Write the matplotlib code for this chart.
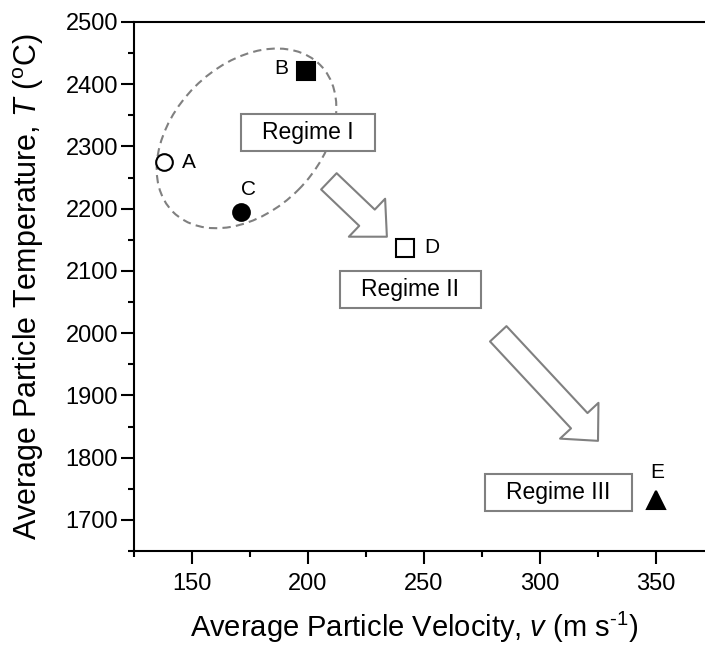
import matplotlib
matplotlib.use('Agg')
import matplotlib.pyplot as plt
from matplotlib.patches import Ellipse
from matplotlib.path import Path
from matplotlib.transforms import Affine2D, ScaledTranslation
from matplotlib.ticker import MultipleLocator

plt.rcParams['font.family'] = ['Liberation Sans', 'DejaVu Sans']
plt.rcParams['mathtext.fontset'] = 'custom'
plt.rcParams['mathtext.rm'] = 'Liberation Sans'
plt.rcParams['mathtext.it'] = 'Liberation Sans:italic'

# data
labels = ['A', 'B', 'C', 'D', 'E']
velocity = [138, 199, 171, 242, 350]          # m/s
temperature = [2275, 2421, 2195, 2137, 1732]  # deg C
markers = ['o', 's', 'o', 's', '^']
filled = [False, True, True, False, True]
label_offsets = [(25, 0), (-24, 3), (8, 22), (26, 0), (1, 27)]  # pixels

regime_names = ['Regime I', 'Regime II', 'Regime III']
regime_x = [200, 244, 308]
regime_y = [2323, 2070, 1744]

arrow_tails = [(209, 2244), (282, 1999)]
arrow_tips = [(234, 2155), (325, 1827)]

# dashed outline around regime I (centre in data, size in pixels)
ell_centre = (173.5, 2313)
ell_w, ell_h, ell_angle = 208, 146, 45

GREY = '#808080'

fig = plt.figure(figsize=(7.05, 6.51), dpi=100)
ax = fig.add_axes([134/705, 100/651, 580/705, 529/651])

for x, y, m, f, lab, off in zip(velocity, temperature, markers, filled, labels, label_offsets):
    size = 12 if m == 'o' else 13
    ax.plot(x, y, marker=m, ms=size, mfc='black' if f else 'white',
            mec='black', mew=1.5, ls='none', zorder=5)
    ax.annotate(lab, (x, y), xytext=off, textcoords='offset pixels',
                ha='center', va='center', fontsize=15)


def wide_box(x0, y0, width, height, mutation_size):
    # rectangle with more padding left/right than top/bottom
    px = 0.94 * mutation_size
    py = 0.31 * mutation_size
    x0, y0 = x0 - px, y0 - py
    x1, y1 = x0 + width + 2 * px, y0 + height + 2 * py
    return Path([(x0, y0), (x1, y0), (x1, y1), (x0, y1), (x0, y0)], closed=True)


for name, x, y in zip(regime_names, regime_x, regime_y):
    ax.text(x, y, name, ha='center', va='center', fontsize=16.5, zorder=4,
            bbox=dict(boxstyle=wide_box, fc='white', ec=GREY, lw=1.5))

for tail, tip in zip(arrow_tails, arrow_tips):
    ax.annotate('', xy=tip, xytext=tail,
                arrowprops=dict(arrowstyle='simple,head_length=0.55,head_width=1.05,tail_width=0.45',
                                mutation_scale=36, fc='white', ec=GREY, lw=1.5,
                                shrinkA=0, shrinkB=0))

ell_tr = Affine2D().rotate_deg(ell_angle) + ScaledTranslation(ell_centre[0], ell_centre[1], ax.transData)
ell = Ellipse((0, 0), ell_w, ell_h, transform=ell_tr, fill=False, ec=GREY,
              lw=1.5, ls=(0, (4, 2.5)), zorder=3)
ax.add_patch(ell)

ax.set_xlim(125, 375)
ax.set_ylim(1650, 2500)
ax.xaxis.set_major_locator(MultipleLocator(50))
ax.xaxis.set_minor_locator(MultipleLocator(25))
ax.yaxis.set_major_locator(MultipleLocator(100))
ax.yaxis.set_minor_locator(MultipleLocator(50))
ax.tick_params(which='major', direction='out', length=9.5, width=1.5, labelsize=17)
ax.tick_params(which='minor', direction='out', length=4.5, width=1.5)
ax.tick_params(axis='x', pad=6.5)
ax.tick_params(axis='y', pad=2)
ax.tick_params(top=False, right=False)
for s in ax.spines.values():
    s.set_linewidth(1.5)

ax.set_xlabel('Average Particle Velocity, $\\mathit{v}$ (m s$^{\u2010\\mathregular{1}}$)', fontsize=21)
ax.set_ylabel(r'Average Particle Temperature, $\mathit{T}$ ($^{\rm o}$C)', fontsize=22)
ax.xaxis.set_label_coords(0.4836, -0.112)
ax.yaxis.set_label_coords(-0.152, 0.5)

fig.savefig('out.png', dpi=100)
